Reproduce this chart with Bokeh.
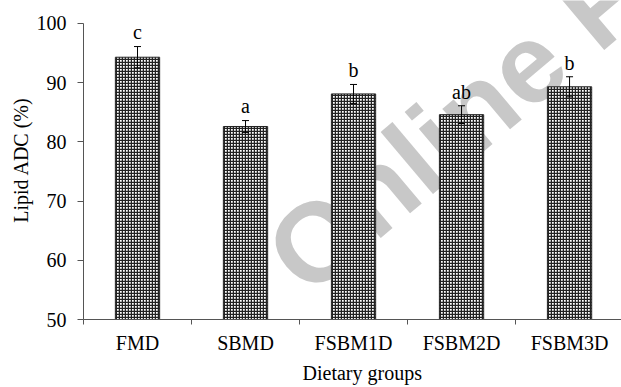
from bokeh.plotting import figure
from bokeh.models import Range1d, FixedTicker, Whisker, ColumnDataSource, Label, TeeHead, Title
from bokeh.core.properties import value
from bokeh.embed import file_html
from bokeh.resources import INLINE

# ---- data ----
groups = ["FMD", "SBMD", "FSBM1D", "FSBM2D", "FSBM3D"]
means = [94.3, 82.6, 88.1, 84.6, 89.3]
errors = [1.8, 1.0, 1.6, 1.5, 1.7]
letters = ["c", "a", "b", "ab", "b"]
y_ticks = [50, 60, 70, 80, 90, 100]

pos = [i + 0.5 for i in range(len(groups))]
upper = [m + e for m, e in zip(means, errors)]
src = ColumnDataSource(dict(
    x=pos,
    top=means,
    upper=upper,
    lower=[m - e for m, e in zip(means, errors)],
    ly=[u + 2.4 for u in upper],
    letter=letters,
))

SERIF = "Liberation Serif"
AXIS_COL = "#555555"

p = figure(width=621, height=387,
           x_range=Range1d(0, 4.981), y_range=Range1d(50, 103.88),
           output_backend="svg", toolbar_location=None,
           min_border_left=83, min_border_right=0,
           min_border_top=0, min_border_bottom=68)
p.outline_line_color = None
p.xgrid.visible = False
p.ygrid.visible = False
p.background_fill_color = "white"

# watermark (behind the bars)
wm = Label(x=1.85, y=58.4, text="Online First", angle=0.70,
           text_font="Liberation Sans", text_font_style="bold",
           text_font_size="112px", text_color="#c8c8c8",
           text_align="left", text_baseline="alphabetic", level="underlay")
p.add_layout(wm)

p.vbar(x="x", top="top", bottom=50, width=0.41, source=src,
       fill_color="white", line_color="#222222", line_width=1,
       hatch_pattern="cross", hatch_color="#222222",
       hatch_scale=3, hatch_weight=1.5)

wh = Whisker(base="x", upper="upper", lower="lower", source=src,
             line_color="black", line_width=1,
             upper_head=TeeHead(size=7, line_color="black", line_width=1),
             lower_head=TeeHead(size=7, line_color="black", line_width=1),
             level="annotation")
p.add_layout(wh)

p.text(x="x", y="ly", text="letter", source=src,
       text_align="center", text_baseline="alphabetic",
       text_font=value(SERIF), text_font_size="20px", text_color="black")

# y axis
ya = p.yaxis[0]
ya.bounds = (50, 100)
ya.ticker = FixedTicker(ticks=y_ticks)
ya.axis_label = "Lipid ADC (%)"
ya.axis_label_text_font = SERIF
ya.axis_label_text_font_size = "20px"
ya.axis_label_text_font_style = "normal"
ya.axis_label_text_color = "black"
ya.axis_label_standoff = 2
ya.major_label_text_font = SERIF
ya.major_label_text_font_size = "20px"
ya.major_label_text_color = "black"
ya.major_tick_out = 6
ya.major_tick_in = 0
ya.minor_tick_out = 0
ya.minor_tick_in = 0
ya.axis_line_color = AXIS_COL
ya.major_tick_line_color = AXIS_COL
ya.major_label_standoff = 11

# x axis
xa = p.xaxis[0]
xa.ticker = FixedTicker(ticks=pos, minor_ticks=list(range(len(groups))))
xa.major_label_overrides = {x: g for x, g in zip(pos, groups)}
xa.major_label_text_font = SERIF
xa.major_label_text_font_size = "20px"
xa.major_label_text_color = "black"
xa.major_tick_line_color = None
xa.major_tick_out = 0
xa.major_tick_in = 0
xa.minor_tick_out = 5
xa.minor_tick_in = 0
xa.minor_tick_line_color = AXIS_COL
xa.axis_line_color = AXIS_COL
xa.major_label_standoff = 7

# x axis title, placed like the original (wider) plot area
xt = Title(text="Dietary groups", align="left", offset=219, standoff=7,
           text_font=SERIF, text_font_size="20px", text_font_style="normal",
           text_color="black")
p.add_layout(xt, "below")

open("out.html", "w").write(file_html(p, INLINE))
